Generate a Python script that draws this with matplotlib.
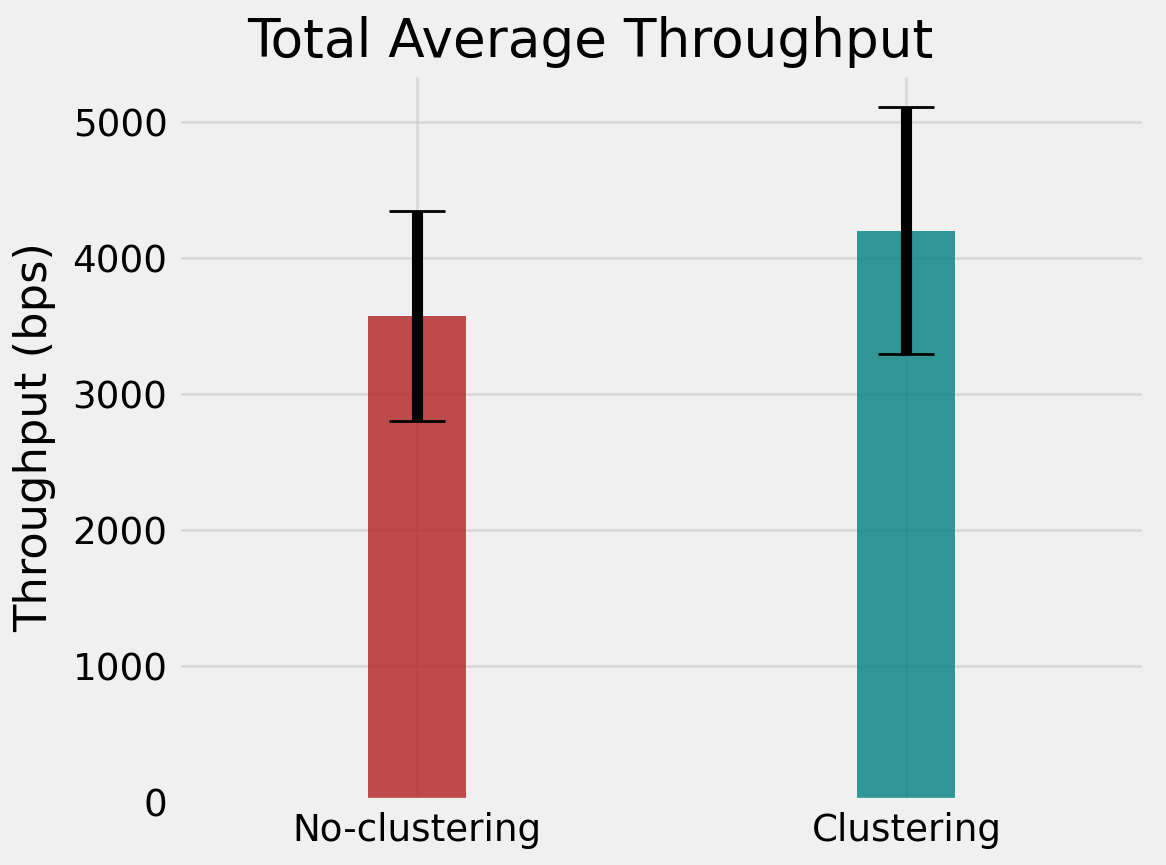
import matplotlib
matplotlib.use('Agg')
import matplotlib.pyplot as plt

plt.style.use('fivethirtyeight')

# data
methods = ['No-clustering', 'Clustering']
throughput = [3575, 4200]
throughput_err = [772, 906]
bar_colors = ['firebrick', 'teal']

fig = plt.figure(figsize=(5.83, 4.325), dpi=200)
ax = fig.add_axes([0.152, 0.073, 0.831, 0.843])
ax.grid(alpha=0.6)

x = range(len(methods))
ax.bar(x, throughput, width=0.2, color=bar_colors, alpha=0.8,
       yerr=throughput_err, capsize=10, ecolor='black')

ax.set_xticks(list(x))
ax.set_xticklabels(methods)
ax.tick_params(labelsize=13.4)
ax.set_xlim(-0.49, 1.49)
ax.set_ylabel('Throughput (bps)', fontsize=16.1, labelpad=6)
fig.text(0.506, 0.952, 'Total Average Throughput', ha='center', va='center',
         fontsize=19.2)

fig.savefig('out.png', dpi=200)
